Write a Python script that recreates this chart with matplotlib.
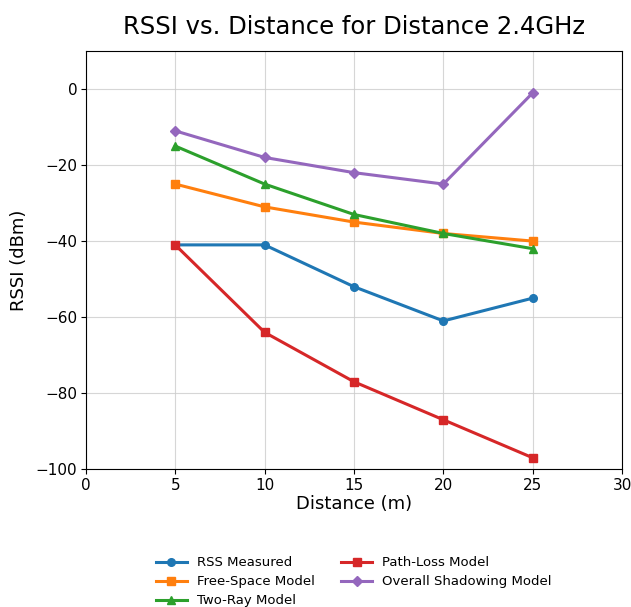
import matplotlib
matplotlib.use("Agg")
import matplotlib.pyplot as plt

distance = [5, 10, 15, 20, 25]
rss_measured = [-41, -41, -52, -61, -55]
free_space = [-25, -31, -35, -38, -40]
two_ray = [-15, -25, -33, -38, -42]
path_loss = [-41, -64, -77, -87, -97]
shadowing = [-11, -18, -22, -25, -1]

fig = plt.figure(figsize=(6.31, 6.07), dpi=100)
ax = fig.add_axes([0.136, 0.227, 0.850, 0.689])

ax.plot(distance, rss_measured, marker='o', color='#1f77b4', lw=2.2, ms=5.5, label='RSS Measured')
ax.plot(distance, free_space, marker='s', color='#ff7f0e', lw=2.2, ms=5.5, label='Free-Space Model')
ax.plot(distance, two_ray, marker='^', color='#2ca02c', lw=2.2, ms=5.5, label='Two-Ray Model')
ax.plot(distance, path_loss, marker='s', color='#d62728', lw=2.2, ms=5.5, label='Path-Loss Model')
ax.plot(distance, shadowing, marker='D', color='#9467bd', lw=2.2, ms=5.5, label='Overall Shadowing Model')

ax.set_xlim(0, 30)
ax.set_ylim(-100, 10)
ax.set_xticks([0, 5, 10, 15, 20, 25, 30])
ax.set_yticks([0, -20, -40, -60, -80, -100])
ax.grid(True, color='#cccccc', alpha=0.8, lw=0.8)
ax.tick_params(labelsize=11, pad=2.5)
ax.set_xlabel('Distance (m)', fontsize=13, labelpad=2)
ax.set_ylabel('RSSI (dBm)', fontsize=13, labelpad=6)
ax.set_title('RSSI vs. Distance for Distance 2.4GHz', fontsize=17.5, pad=12)
ax.legend(loc='upper center', bbox_to_anchor=(0.5, -0.18), ncol=2, frameon=False,
          fontsize=9.5, labelspacing=0.45, handlelength=2.3, columnspacing=2.0)

fig.savefig('out.png', dpi=100)
